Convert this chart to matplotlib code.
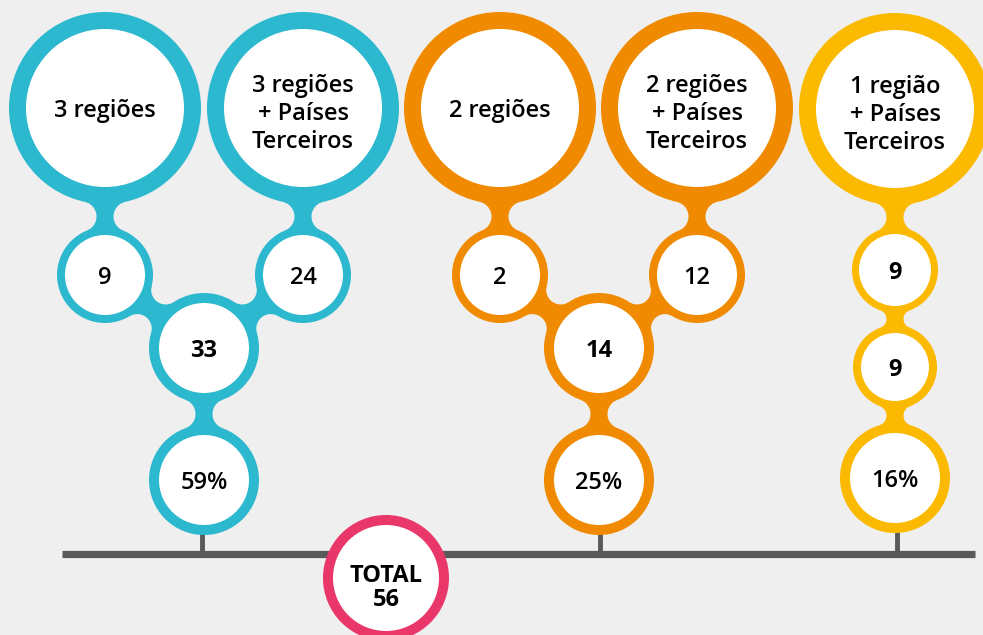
import numpy as np
import matplotlib.pyplot as plt
from matplotlib.patches import Circle, Polygon

# ---- data ----
top_labels = [["3 regiões", "3 regiões\n+ Países\nTerceiros"],
              ["2 regiões", "2 regiões\n+ Países\nTerceiros"],
              ["1 região\n+ Países\nTerceiros"]]
counts = [[9, 24], [2, 12], [9]]
subtotals = [33, 14, 9]
shares = ["59%", "25%", "16%"]
total = 56

colors = ["#2cb8ce", "#f08a00", "#fbb900"]
total_color = "#e83768"
bg = "#efefef"
bar_color = "#595959"

# ---- layout (pixels) ----
W, H = 983, 635
fig = plt.figure(figsize=(W / 100, H / 100), dpi=100, facecolor=bg)
ax = fig.add_axes([0, 0, 1, 1])
ax.set_xlim(0, W)
ax.set_ylim(H, 0)
ax.axis("off")
ax.set_facecolor(bg)

FONT = "Open Sans"
FS = 17


def neck(c1, r1, c2, r2, w, color):
    # smooth concave bridge between two circles
    c1 = np.array(c1, float)
    c2 = np.array(c2, float)
    d = np.linalg.norm(c2 - c1)
    u = (c2 - c1) / d
    n = np.array([-u[1], u[0]])

    def geom(rc):
        d1, d2 = r1 + rc, r2 + rc
        a = (d1 ** 2 - d2 ** 2 + d ** 2) / (2 * d)
        h = np.sqrt(max(d1 ** 2 - a ** 2, 0))
        return a, h

    lo, hi = max((d - r1 - r2) / 2, 0.01), 40.0
    for _ in range(60):
        mid = (lo + hi) / 2
        a, h = geom(mid)
        if h - mid < w:
            lo = mid
        else:
            hi = mid
    rc = (lo + hi) / 2
    a, h = geom(rc)
    sides = []
    for s in (1, -1):
        cc = c1 + a * u + s * h * n
        a1 = np.arctan2(*(c1 - cc)[::-1])
        a2 = np.arctan2(*(c2 - cc)[::-1])
        diff = (a2 - a1 + np.pi) % (2 * np.pi) - np.pi
        t = a1 + np.linspace(0, diff, 40)
        sides.append(np.c_[cc[0] + rc * np.cos(t), cc[1] + rc * np.sin(t)])
    pts = np.vstack([sides[0], sides[1][::-1]])
    ax.add_patch(Polygon(pts, closed=True, fc=color, ec="none", zorder=1))


def node(c, ro, ri, color, text, weight="semibold", dy=3):
    ax.add_patch(Circle(c, ro, fc=color, ec="none", zorder=1))
    ax.add_patch(Circle(c, ri, fc="white", ec="none", zorder=2))
    if "\n" in text:
        dy = 6
    ax.text(c[0], c[1] + dy, text, ha="center", va="center", fontsize=FS,
            family=FONT, weight=weight, linespacing=1.22, zorder=3)


# column positions for each group
cols = [[105, 303], [500, 697], [895]]
mids = [204, 599, 895]
stem_x = [202, 600, 897]
BIG = (96, 79)
NW = 8.5

# bottom bar
ax.plot([62, 975], [553.5, 553.5], color=bar_color, lw=5.2,
        solid_capstyle="butt", zorder=0)

for g in range(3):
    col = colors[g]
    if len(cols[g]) == 2:
        small_y, mid_y, pct_y = 275, 348, 480
        for i, x in enumerate(cols[g]):
            node((x, 108), *BIG, col, top_labels[g][i])
            node((x, small_y), 48, 40, col, str(counts[g][i]))
            neck((x, 108), BIG[0], (x, small_y), 48, NW, col)
            neck((x, small_y), 48, (mids[g], mid_y), 55, NW + 1, col)
        node((mids[g], mid_y), 55, 45, col, str(subtotals[g]), weight="bold")
    else:
        x = cols[g][0]
        small_y, mid_y, pct_y = 270, 367, 478
        node((x, 109), *BIG, col, top_labels[g][0])
        node((x, small_y), 43, 36, col, str(counts[g][0]), weight="bold")
        neck((x, 109), BIG[0], (x, small_y), 43, NW, col)
        node((x, mid_y), 42, 34, col, str(subtotals[g]), weight="bold")
        neck((x, small_y), 43, (x, mid_y), 42, NW, col)
    node((mids[g], pct_y), 55, 45, col, shares[g])
    neck((mids[g], mid_y), 55 if len(cols[g]) == 2 else 42,
         (mids[g], pct_y), 55, NW, col)
    ax.plot([stem_x[g], stem_x[g]], [pct_y + 50, 553.5], color=bar_color,
            lw=3.5, zorder=0)

# total circle
ax.add_patch(Circle((386, 578), 63, fc=total_color, ec="none", zorder=1))
ax.add_patch(Circle((386, 578), 53, fc="white", ec="none", zorder=2))
ax.text(386, 588, f"TOTAL\n{total}", ha="center", va="center", fontsize=FS,
        family=FONT, weight="bold", linespacing=1.05, zorder=3)

fig.savefig("out.png", dpi=100, facecolor=bg)
